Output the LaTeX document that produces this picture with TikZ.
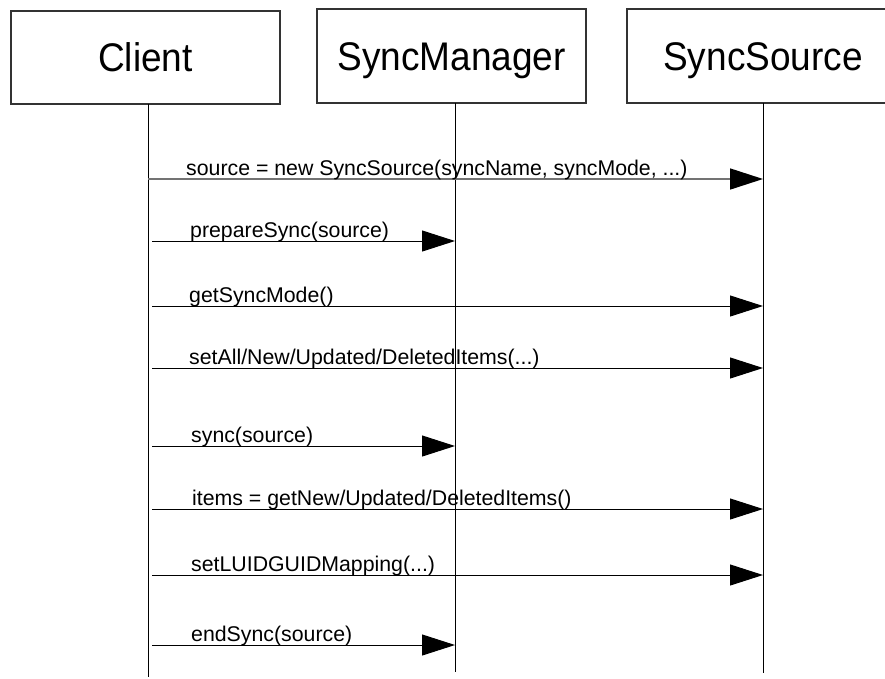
\documentclass[tikz,border=0pt]{standalone}
\usepackage{fontspec}
\setmainfont{Liberation Sans}
\usetikzlibrary{arrows.meta}
\begin{document}
\begin{tikzpicture}[x=1pt,y=-1pt,
  actor/.style={draw=black!80, line width=1.4pt, inner sep=0pt, text height=28pt, text depth=0pt, font=\fontsize{37}{40}\selectfont},
  life/.style={draw=black, line width=1pt},
  msg/.style={draw=black, line width=1pt, -{Triangle[length=33pt,width=21pt,color=black]}},
  msglabel/.style={anchor=base west, inner sep=0pt, font=\fontsize{21.3}{24}\selectfont}]
\useasboundingbox (0,0) rectangle (885,678);
% actors
\node[actor, minimum width=269, minimum height=93] (client) at (145.5,57.5) {\scalebox{1}[1.08]{Client}};
\node[actor, minimum width=269, minimum height=94] (mgr) at (451.5,56) {\scalebox{1}[1.08]{SyncManager}};
\node[actor, minimum width=272, minimum height=94] (src) at (763,56) {\scalebox{1}[1.08]{SyncSource}};
% lifelines
\coordinate (ctop) at (148,104);  \coordinate (cbot) at (148,677);
\coordinate (mtop) at (455,103);  \coordinate (mbot) at (455,672);
\coordinate (stop) at (763,103);  \coordinate (sbot) at (763,673);
\draw[life] (ctop) -- (cbot);
\draw[life] (mtop) -- (mbot);
\draw[life] (stop) -- (sbot);
% first message
\coordinate (s1) at (148,179);
\coordinate (e1) at (763,179);
\draw[msg, draw=black!55, line width=1.6pt] (s1) -- (e1);
\node[msglabel] (l1) at (186,175) {source = new SyncSource(syncName, syncMode, ...)};
% other messages
\foreach \i/\y/\tx/\lx/\t in {
  2/241/455/190/{prepareSync(source)},
  3/306/763/189/{getSyncMode()},
  4/368/763/189/{setAll/New/Updated/DeletedItems(...)},
  5/446/455/191/{sync(source)},
  6/509/763/192/{items = getNew/Updated/DeletedItems()},
  7/575/763/191/{setLUIDGUIDMapping(...)},
  8/645/455/191/{endSync(source)}} {
  \coordinate (s\i) at (152,\y);
  \coordinate (e\i) at (\tx,\y);
  \draw[msg] (s\i) -- (e\i);
  \node[msglabel] (l\i) at (\lx,\y-4) {\t};
}
\end{tikzpicture}
\end{document}
